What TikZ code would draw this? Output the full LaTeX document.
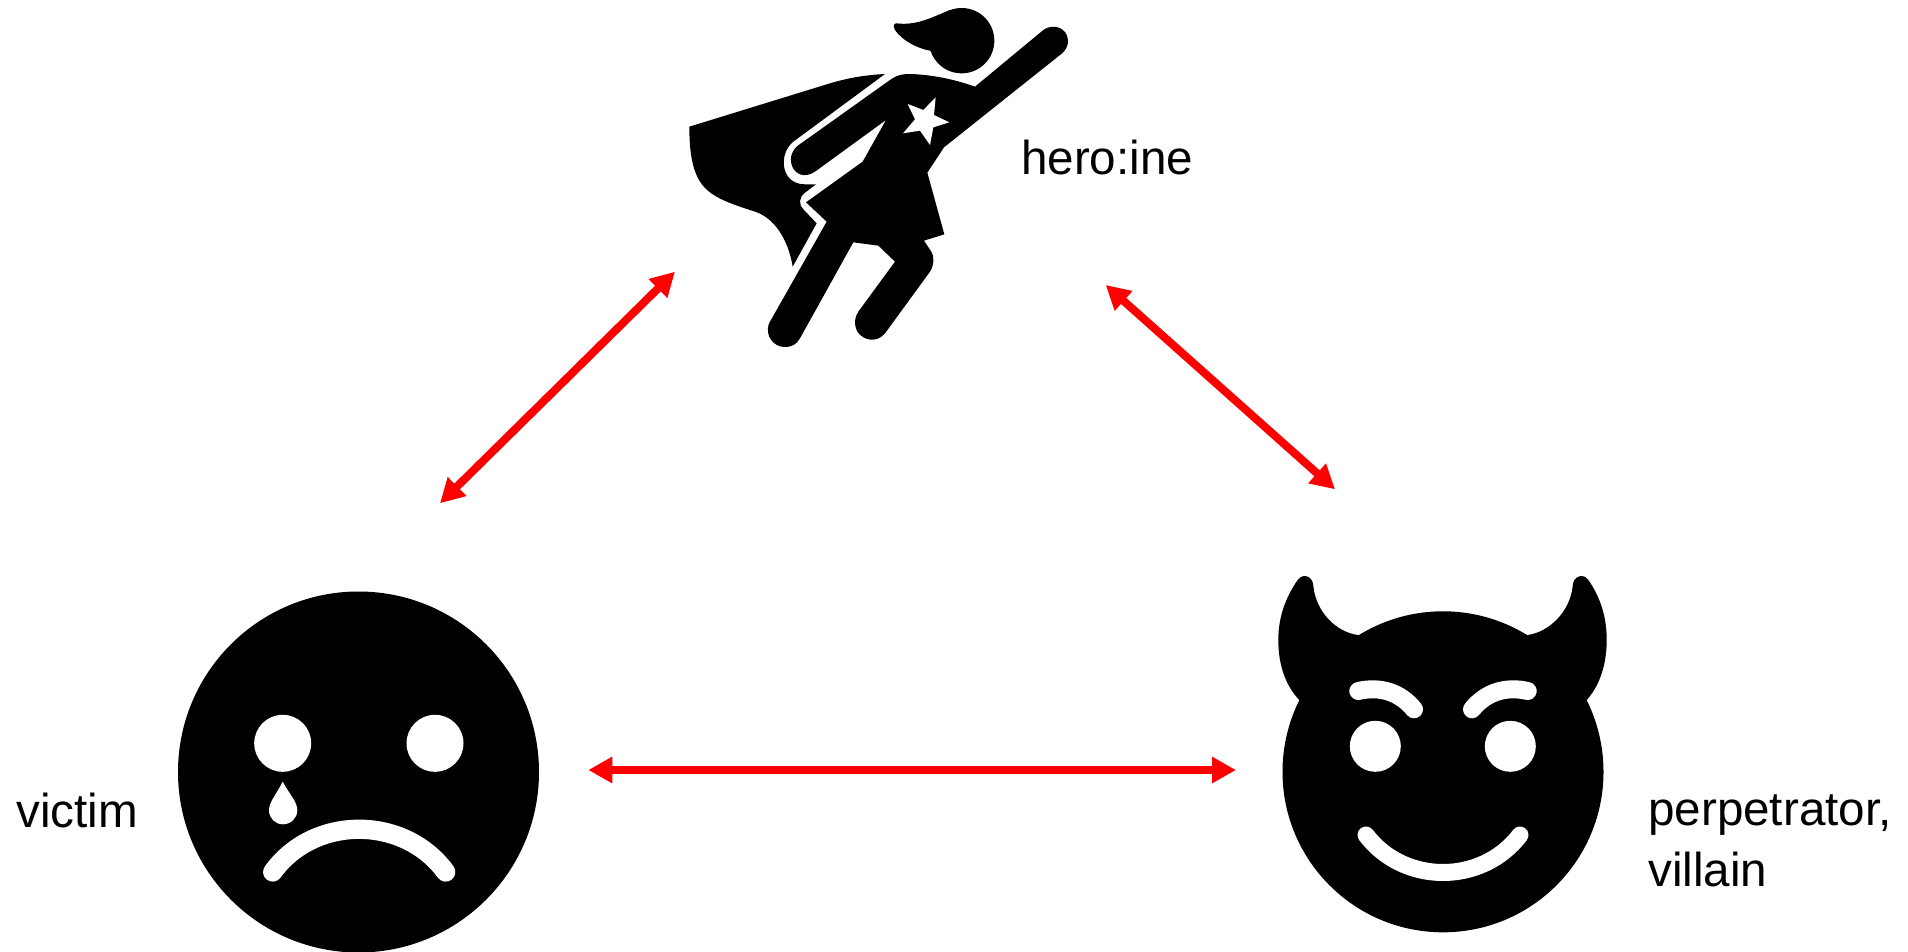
\documentclass[tikz,border=0pt]{standalone}
\usepackage{fontspec}
\setmainfont{Liberation Sans}
\usetikzlibrary{arrows.meta}
\tikzset{
  ink/.style={fill=black,draw=none},
  paper/.style={fill=white,draw=none},
  whitestroke/.style={draw=white,line cap=round,line width=#1},
  rel/.style={draw=red,line width=8pt,{Triangle[length=24pt,width=25pt]}-{Triangle[length=24pt,width=25pt]}},
  lab/.style={anchor=base west,inner sep=0pt,font=\fontsize{47.6pt}{55pt}\selectfont,align=left},
  face/.style={circle,fill=black,inner sep=0pt,minimum size=#1}
}
\begin{document}
\begin{tikzpicture}[x=1pt,y=-1pt]
\useasboundingbox (0,0) rectangle (1908,952);
% victim
\node[face=361pt] (victimface) at (358.5,772) {};
\fill[paper] (282.7,743.3) circle (28.5);
\fill[paper] (435,743.3) circle (28.5);
\fill[paper] (282.7,781.7) .. controls (276,795) and (269,802) .. (269,810.3) .. controls (269,818) and (275,824.3) .. (283,824.3) .. controls (291,824.3) and (297.3,818) .. (297.3,810.3) .. controls (297.3,802) and (290,795) .. (282.7,781.7) -- cycle;
\draw[whitestroke=19.3pt] (272.7,872) .. controls (314,815) and (404,815) .. (445.7,872);
% devil
\fill[ink] (1299.3,700) .. controls (1284,684) and (1278.3,662) .. (1278.3,640) .. controls (1278.3,618) and (1285,598) .. (1298,579.5) .. controls (1303,573) and (1313,576) .. (1313.3,586) .. controls (1316,612) and (1336,632) .. (1357.7,635) -- (1527.7,635) .. controls (1549,632) and (1570,612) .. (1572.7,586) .. controls (1573,576) and (1583,573) .. (1588,579.5) .. controls (1601,598) and (1606.7,618) .. (1606.7,640) .. controls (1606.7,662) and (1601,684) .. (1586.7,700) -- cycle;
\node[face=321pt] (devilface) at (1443,771.8) {};
\fill[paper] (1375.3,746.3) circle (25.5);
\fill[paper] (1510.3,746.3) circle (25.5);
\draw[whitestroke=18pt] (1358.3,691) .. controls (1380,686) and (1400,692) .. (1414,709.3);
\draw[whitestroke=18pt] (1527.7,691) .. controls (1506,686) and (1486,692) .. (1472,709.3);
\draw[whitestroke=17pt] (1366,835) .. controls (1404,885) and (1482,885) .. (1520,835);
% heroine
\begin{scope}[shift={(720,0)},x=1pt/3,y=-1pt/3]
  % cape
  \fill[ink] (-92,380) -- (330,250) .. controls (390,232) and (440,225) .. (495,222) -- (220,425) .. controls (175,460) and (180,553) .. (255,553) -- (288,553) -- (255,578) .. controls (236,592) and (236,615) .. (250,628) -- (290,670) -- (218,800) .. controls (205,720) and (165,655) .. (105,635) .. controls (60,620) and (20,608) .. (-10,590) .. controls (-65,560) and (-92,510) .. (-92,380) -- cycle;
  % head
  \fill[ink] (725,122) circle (98);
  \fill[ink] (530,70) .. controls (590,78) and (640,50) .. (690,30) -- (760,60) -- (680,200) -- (630,152) .. controls (590,145) and (545,120) .. (525,90) .. controls (518,78) and (522,69) .. (530,70) -- cycle;
  % body
  \fill[ink] (510,240) .. controls (535,222) and (555,222) .. (570,222) .. controls (640,224) and (710,240) .. (765,260)
    -- (970,90) .. controls (995,72) and (1030,80) .. (1040,105) .. controls (1050,130) and (1040,150) .. (1020,165) -- (672,442) -- (622,518) -- (673,703) -- (612,722) -- (632,752) .. controls (645,772) and (642,795) .. (630,815) -- (495,1000) .. controls (470,1030) and (430,1022) .. (412,995) .. controls (400,970) and (405,950) .. (415,935) -- (525,785) -- (475,737) -- (400,727) -- (240,1015) .. controls (222,1050) and (170,1050) .. (150,1015) .. controls (140,995) and (143,975) .. (150,965) -- (320,665) -- (258,607) -- (428,485) -- (498,360) -- (285,515) .. controls (255,535) and (225,525) .. (215,495) .. controls (208,470) and (218,450) .. (232,438) -- cycle;
  % star
  \fill[paper] (563,312) -- (610,330) -- (647,292) -- (642,345) -- (688,367) -- (640,382) -- (630,435) -- (600,392) -- (549,400) -- (585,358) -- cycle;
\end{scope}
% arrows
\coordinate (va) at (440,503.3);
\coordinate (ha) at (675,271.7);
\coordinate (hb) at (1105.7,285);
\coordinate (db) at (1335,489.3);
\coordinate (vc) at (588.3,770);
\coordinate (dc) at (1236,770);
\draw[rel] (va) -- (ha);
\draw[rel] (hb) -- (db);
\draw[rel] (vc) -- (dc);
% labels
\node[lab] (herolabel) at (1021,175) {hero:ine};
\node[lab] (victimlabel) at (16,827) {victim};
\node[lab] (perplabel) at (1648,825) {perpetrator,};
\node[lab] (villainlabel) at (1648,886) {villain};
\end{tikzpicture}
\end{document}
